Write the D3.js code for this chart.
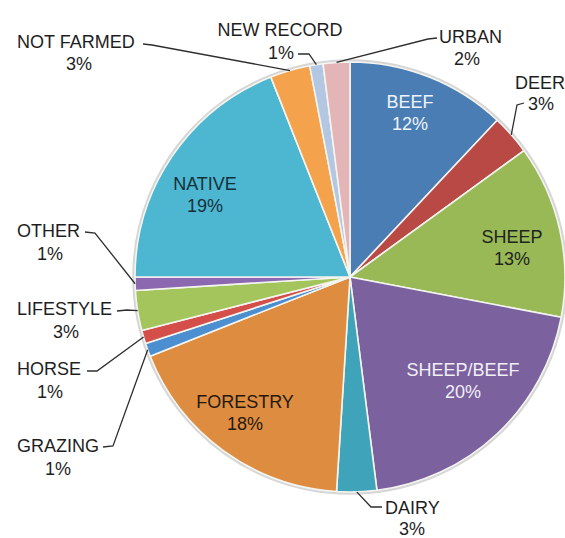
<!DOCTYPE html>
<html>
<head>
<meta charset="utf-8">
<script src="https://cdn.jsdelivr.net/npm/d3@7/dist/d3.min.js"></script>
<style>
  html, body { margin: 0; padding: 0; background: #fff; }
  svg { display: block; }
  text { font-family: "Liberation Sans", Arial, Helvetica, sans-serif; font-size: 18px; }
</style>
</head>
<body>
<svg id="chart" width="565" height="538"></svg>
<script>
// ---- data ----
const categories = ["BEEF","DEER","SHEEP","SHEEP/BEEF","DAIRY","FORESTRY","GRAZING","HORSE","LIFESTYLE","OTHER","NATIVE","NOT FARMED","NEW RECORD","URBAN"];
const values = [12, 3, 13, 20, 3, 18, 1, 1, 3, 1, 19, 3, 1, 2];
const percentLabels = ["12%","3%","13%","20%","3%","18%","1%","1%","3%","1%","19%","3%","1%","2%"];
const colors = ["#4a7db4","#b94944","#99b957","#7b619d","#3fa3b9","#de8c3f","#4b8fd0","#d44e4a","#a3c55b","#8b68b0","#4db7d1","#f5a24c","#b3c7e3","#e4b5b7"];

// ---- layout (positions only) ----
const W = 565, H = 538;
const cx = 350, cy = 277, R = 215;
const inside = {
  "BEEF":       {x: 410, y: 108, fill: "#eef3f9"},
  "SHEEP":      {x: 512, y: 243, fill: "#1c2420"},
  "SHEEP/BEEF": {x: 463, y: 376, fill: "#f2eff7"},
  "FORESTRY":   {x: 245, y: 408, fill: "#24190f"},
  "NATIVE":     {x: 205, y: 190, fill: "#14303a"}
};
const outside = {
  "NOT FARMED": {nx: 17,  ny: 48,  na: "start",  px: 79,  py: 70,  lead: [[143,44],[152,45]]},
  "NEW RECORD": {nx: 280, ny: 36,  na: "middle", px: 281, py: 59,  lead: [[298,54],[309,54]]},
  "URBAN":      {nx: 439, ny: 43,  na: "start",  px: 467, py: 65,  lead: [[437,38],[428,39]]},
  "DEER":       {nx: 515, ny: 89,  na: "start",  px: 541, py: 110, lead: [[524,103],[517,105]]},
  "DAIRY":      {nx: 385, ny: 514, na: "start",  px: 412, py: 535, lead: [[382,507],[371,507]]},
  "OTHER":      {nx: 17,  ny: 237, na: "start",  px: 50,  py: 260, lead: [[85,232],[95,233]]},
  "LIFESTYLE":  {nx: 17,  ny: 315, na: "start",  px: 66,  py: 338, lead: [[117,311],[127,310]]},
  "HORSE":      {nx: 17,  ny: 375, na: "start",  px: 50,  py: 398, lead: [[87,371],[97,371]]},
  "GRAZING":    {nx: 17,  ny: 452, na: "start",  px: 58,  py: 475, lead: [[103,447],[113,446]]}
};

const svg = d3.select("#chart");
svg.append("rect").attr("width", W).attr("height", H).attr("fill", "#fff");

const data = categories.map((c, i) => ({name: c, value: values[i], pct: percentLabels[i], color: colors[i]}));
const pie = d3.pie().sort(null).value(d => d.value);
const arcs = pie(data);
const arc = d3.arc().innerRadius(0).outerRadius(R);
const edgeArc = d3.arc().innerRadius(R).outerRadius(R);

const g = svg.append("g").attr("transform", `translate(${cx},${cy})`);
g.append("circle").attr("r", R + 1.5).attr("fill", "none").attr("stroke", "#d6d6d6").attr("stroke-width", 2.5);
g.selectAll("path.slice").data(arcs).enter().append("path")
  .attr("class", "slice")
  .attr("d", arc)
  .attr("fill", d => d.data.color)
  .attr("stroke", "#f4f4f0")
  .attr("stroke-width", 1.6)
  .attr("stroke-linejoin", "round");

// inside labels
arcs.forEach(a => {
  const L = inside[a.data.name];
  if (!L) return;
  const t = svg.append("text").attr("text-anchor", "middle").attr("fill", L.fill);
  t.append("tspan").attr("x", L.x).attr("y", L.y).text(a.data.name);
  t.append("tspan").attr("x", L.x).attr("y", L.y + 22).text(a.data.pct);
});

// outside labels with leaders
const line = d3.line();
arcs.forEach(a => {
  const L = outside[a.data.name];
  if (!L) return;
  const c = edgeArc.centroid(a);
  const end = [cx + c[0], cy + c[1]];
  svg.append("path")
    .attr("d", line([...L.lead, end]))
    .attr("fill", "none")
    .attr("stroke", "#2e2e2e")
    .attr("stroke-width", 1.3);
  svg.append("text").attr("x", L.nx).attr("y", L.ny).attr("text-anchor", L.na).attr("fill", "#1e1e1e").text(a.data.name);
  svg.append("text").attr("x", L.px).attr("y", L.py).attr("text-anchor", "middle").attr("fill", "#1e1e1e").text(a.data.pct);
});
</script>
</body>
</html>
